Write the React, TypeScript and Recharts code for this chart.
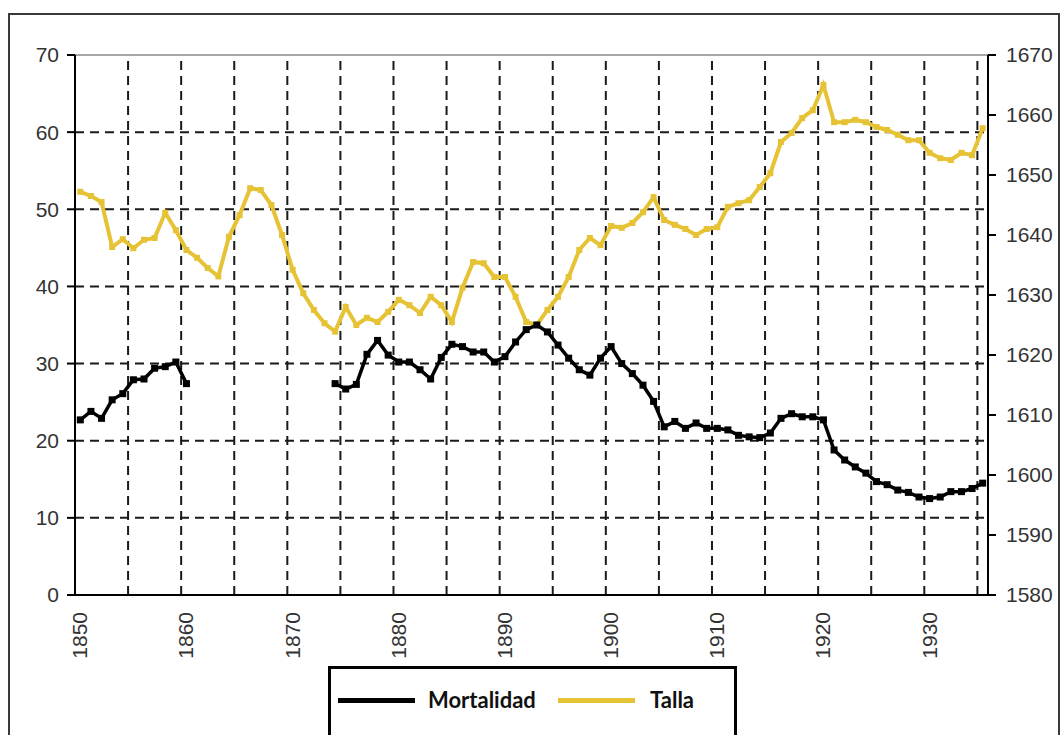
import React from 'react';
import { LineChart, Line, XAxis, YAxis, ReferenceLine } from 'recharts';

const YEARS: number[] = Array.from({ length: 86 }, (_, i) => 1850 + i);

const MORTALIDAD: (number | null)[] = [
  22.7, 23.8, 22.9, 25.3, 26.1, 27.9, 28.0, 29.4, 29.6, 30.2,
  27.4, null, null, null, null, null, null, null, null, null,
  null, null, null, null, 27.4, 26.7, 27.3, 31.2, 33.0, 31.1,
  30.2, 30.2, 29.2, 28.0, 30.8, 32.5, 32.2, 31.5, 31.5, 30.2,
  30.9, 32.8, 34.4, 35.0, 34.1, 32.4, 30.7, 29.2, 28.5, 30.7,
  32.2, 30.0, 28.7, 27.2, 25.1, 21.8, 22.5, 21.6, 22.3, 21.6,
  21.6, 21.4, 20.7, 20.5, 20.4, 21.0, 22.9, 23.5, 23.1, 23.1,
  22.7, 18.8, 17.5, 16.6, 15.8, 14.7, 14.3, 13.6, 13.3, 12.7,
  12.5, 12.7, 13.4, 13.4, 13.8, 14.5,
];

const TALLA: number[] = [
  1647.2, 1646.5, 1645.5, 1638.0, 1639.3, 1637.8, 1639.2, 1639.5, 1643.7, 1640.8,
  1637.5, 1636.2, 1634.5, 1633.1, 1639.7, 1643.3, 1647.8, 1647.5, 1645.0, 1640.0,
  1634.2, 1630.3, 1627.5, 1625.3, 1623.9, 1628.0, 1625.0, 1626.2, 1625.5, 1627.2,
  1629.2, 1628.3, 1627.0, 1629.7, 1628.3, 1625.5, 1631.2, 1635.5, 1635.3, 1633.0,
  1633.0, 1629.7, 1625.5, 1625.0, 1627.5, 1629.7, 1633.0, 1637.5, 1639.5, 1638.3,
  1641.5, 1641.2, 1642.0, 1643.8, 1646.3, 1642.5, 1641.7, 1641.0, 1640.0, 1641.0,
  1641.3, 1644.7, 1645.3, 1645.8, 1648.0, 1650.3, 1655.5, 1657.0, 1659.5, 1660.8,
  1665.0, 1658.8, 1658.8, 1659.2, 1658.8, 1658.0, 1657.5, 1656.7, 1655.8, 1655.8,
  1653.7, 1652.8, 1652.5, 1653.7, 1653.3, 1657.8,
];

const X_LABELS: number[] = [1850, 1860, 1870, 1880, 1890, 1900, 1910, 1920, 1930];
// category boundaries (tick marks every 5 years)
const X_BOUNDARIES: number[] = [
  1849.5, 1854.5, 1859.5, 1864.5, 1869.5, 1874.5, 1879.5, 1884.5, 1889.5,
  1894.5, 1899.5, 1904.5, 1909.5, 1914.5, 1919.5, 1924.5, 1929.5, 1934.5,
];
const X_GRID: number[] = X_BOUNDARIES.slice(1);
const LEFT_TICKS: number[] = [0, 10, 20, 30, 40, 50, 60, 70];
const LEFT_GRID: number[] = [10, 20, 30, 40, 50, 60];
const RIGHT_TICKS: number[] = [1580, 1590, 1600, 1610, 1620, 1630, 1640, 1650, 1660, 1670];

const data = YEARS.map((year, i) => ({
  year,
  mortalidad: MORTALIDAD[i],
  talla: TALLA[i],
}));

const BLACK = '#000000';
const YELLOW = '#E6C235';
const GRID = '#1a1a1a';
const DASH = '9 6';
const FONT = '"Liberation Sans", Arial, sans-serif';

const squareDot = (color: string, size: number) => (props: any) => {
  const { cx, cy, index } = props;
  if (cx == null || cy == null || props.value == null || Number.isNaN(cy)) {
    return <g key={`d-${index}`} />;
  }
  return (
    <rect
      key={`d-${index}`}
      x={cx - size / 2}
      y={cy - size / 2}
      width={size}
      height={size}
      fill={color}
    />
  );
};

const YearTick = (props: any) => {
  const { x, y, payload } = props;
  const bx = x + 7;
  return (
    <text
      x={bx}
      y={y}
      transform={`rotate(-90 ${bx} ${y})`}
      textAnchor="end"
      fontSize={21}
      fill="#333"
      fontFamily={FONT}
    >
      {payload.value}
    </text>
  );
};

export default function App() {
  return (
    <div
      style={{
        position: 'absolute',
        left: 0,
        top: 0,
        width: 1063,
        height: 735,
        overflow: 'hidden',
        background: '#fff',
      }}
    >
      <div
        style={{
          position: 'absolute',
          left: 8,
          top: 13,
          width: 1052,
          height: 740,
          border: '2px solid #3a3a3a',
          boxSizing: 'border-box',
        }}
      />
      <div style={{ position: 'absolute', left: 0, top: 0 }}>
        <LineChart
          width={1063}
          height={735}
          data={data}
          margin={{ top: 55, right: 0, bottom: 0, left: 0 }}
        >
          <XAxis
            xAxisId="a1"
            dataKey="year"
            type="number"
            domain={[1849.5, 1935.5]}
            allowDataOverflow
            ticks={X_BOUNDARIES}
            interval={0}
            tick={false}
            tickSize={8}
            height={10}
            axisLine={{ stroke: BLACK, strokeWidth: 2 }}
            tickLine={{ stroke: BLACK, strokeWidth: 2 }}
          />
          <XAxis
            xAxisId="b2"
            dataKey="year"
            type="number"
            domain={[1849.5, 1935.5]}
            allowDataOverflow
            ticks={X_LABELS}
            interval={0}
            tick={<YearTick />}
            tickSize={0}
            tickMargin={7}
            height={130}
            axisLine={false}
            tickLine={false}
          />
          <YAxis
            yAxisId="left"
            orientation="left"
            domain={[0, 70]}
            allowDataOverflow
            ticks={LEFT_TICKS}
            interval={0}
            width={75}
            tickSize={8}
            tickMargin={8}
            tick={{ fontSize: 21, fill: '#333', fontFamily: FONT }}
            axisLine={{ stroke: BLACK, strokeWidth: 2 }}
            tickLine={{ stroke: BLACK, strokeWidth: 2 }}
          />
          <YAxis
            yAxisId="right"
            orientation="right"
            domain={[1580, 1670]}
            allowDataOverflow
            ticks={RIGHT_TICKS}
            interval={0}
            width={75}
            tickSize={8}
            tickMargin={10}
            tick={{ fontSize: 21, fill: '#333', fontFamily: FONT, textAnchor: 'start' }}
            axisLine={{ stroke: BLACK, strokeWidth: 2 }}
            tickLine={{ stroke: BLACK, strokeWidth: 2 }}
          />
          {LEFT_GRID.map((v) => (
            <ReferenceLine
              key={`hg-${v}`}
              xAxisId="a1"
              yAxisId="left"
              y={v}
              stroke={GRID}
              strokeWidth={2}
              strokeDasharray={DASH}
            />
          ))}
          {X_GRID.map((v) => (
            <ReferenceLine
              key={`vg-${v}`}
              xAxisId="a1"
              yAxisId="left"
              x={v}
              stroke={GRID}
              strokeWidth={2}
              strokeDasharray={DASH}
            />
          ))}
          <ReferenceLine xAxisId="a1" yAxisId="left" y={70} stroke="#8a8a8a" strokeWidth={1.5} />
          <Line
            xAxisId="a1"
            yAxisId="right"
            type="linear"
            dataKey="talla"
            stroke={YELLOW}
            strokeWidth={4}
            dot={squareDot(YELLOW, 6)}
            activeDot={false}
            isAnimationActive={false}
          />
          <Line
            xAxisId="a1"
            yAxisId="left"
            type="linear"
            dataKey="mortalidad"
            stroke={BLACK}
            strokeWidth={3.5}
            dot={squareDot(BLACK, 7)}
            activeDot={false}
            connectNulls={false}
            isAnimationActive={false}
          />
        </LineChart>
      </div>
      <div
        style={{
          position: 'absolute',
          left: 328,
          top: 666,
          width: 409,
          height: 80,
          border: '3px solid #000',
          boxSizing: 'border-box',
          background: '#fff',
          fontFamily: 'Lato, "Open Sans", sans-serif',
          fontWeight: 700,
          fontSize: 22,
          color: '#111',
        }}
      >
        <div style={{ position: 'absolute', left: 7, top: 29, width: 77, height: 5, background: BLACK }} />
        <div style={{ position: 'absolute', left: 97, top: 18, height: 26, lineHeight: '26px', whiteSpace: 'nowrap' }}>
          Mortalidad
        </div>
        <div style={{ position: 'absolute', left: 227, top: 29, width: 77, height: 5, background: YELLOW }} />
        <div style={{ position: 'absolute', left: 319, top: 18, height: 26, lineHeight: '26px', whiteSpace: 'nowrap' }}>
          Talla
        </div>
      </div>
    </div>
  );
}
